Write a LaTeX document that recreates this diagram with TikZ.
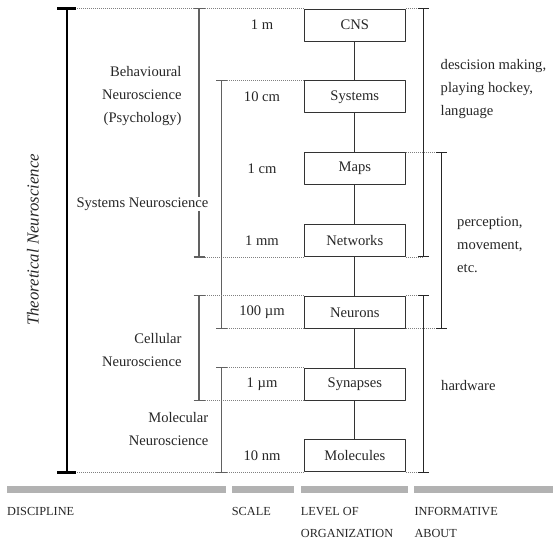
\documentclass[tikz,border=0pt]{standalone}
\usepackage{fontspec}
\setmainfont{Liberation Serif}
\begin{document}
\begin{tikzpicture}[x=1pt,y=-1pt,line join=round,inner sep=0pt,text=black!85,
    font=\fontsize{14.6}{23}\selectfont,
    orgbox/.style={draw=black!80,line width=1pt,minimum width=101pt,minimum height=32pt},
    guide/.style={black!50,line width=.8pt,dash pattern=on .9pt off 1.1pt},
    leftbrace/.style={black!62,line width=1.1pt},
    rightbrace/.style={black!85,line width=1pt},
    bar/.style={fill=black!30},
    heading/.style={anchor=north west,align=left,font=\fontsize{12.3}{21.5}\selectfont}]
\useasboundingbox (0,0) rectangle (553,539);
% x positions of the braces
\path (66.7,0) coordinate (xth) (199,0) coordinate (xl1) (221.7,0) coordinate (xl2)
      (423.3,0) coordinate (xr1) (441.5,0) coordinate (xr2);
% levels of organization and their scale
\foreach \name/\txt/\scl [count=\i from 0] in {cns/CNS/1 m,sys/Systems/10 cm,maps/Maps/1 cm,net/Networks/1 mm,
    neu/Neurons/100 µm,syn/Synapses/1 µm,mol/Molecules/10 nm}{
  \node[orgbox] (\name) at (354.8,25+71.83*\i) {\txt};
  \node (\name-s) at (262,25+71.83*\i) {\scl};
}
\draw[black!80,line width=1pt] (cns)--(sys)--(maps)--(net)--(neu)--(syn)--(mol);
% braces with dotted guides
\draw[guide] (cns.north west) -- (cns.north west -| xth) (mol.south west) -- (mol.south west -| xth);
\draw[black,line width=2.3pt] (cns.north west -| xth) -- (mol.south west -| xth)
  (cns.north west -| xth) ++(-9.5,0) -- ++(19,0) (mol.south west -| xth) ++(-9.5,0) -- ++(19,0);
\foreach \x/\a/\b/\s in {xl1/cns.north west/net.south west/leftbrace,xl2/sys.north west/neu.south west/leftbrace,
    xl1/neu.north west/syn.south west/leftbrace,xl2/syn.north west/mol.south west/leftbrace,
    xr1/cns.north east/net.south east/rightbrace,xr2/maps.north east/neu.south east/rightbrace,
    xr1/neu.north east/mol.south east/rightbrace}{
  \draw[guide] (\a) -- (\a -| \x) (\b) -- (\b -| \x);
  \draw[\s] (\a -| \x) -- (\b -| \x) (\a -| \x) ++(-5.5,0) -- ++(11,0) (\b -| \x) ++(-5.5,0) -- ++(11,0);
}
% disciplines
\node[rotate=90,font=\fontsize{16.8}{18}\selectfont\itshape] (theo) at (33,240) {Theoretical Neuroscience};
\node[anchor=east,align=right] (beh) at (181.7,96) {Behavioural\\Neuroscience\\(Psychology)};
\node[anchor=east,fill=white,inner sep=1pt] (sysn) at (209.5,204) {Systems Neuroscience};
\node[anchor=east,align=right] (cell) at (181.7,349.5) {Cellular\\Neuroscience};
\node[anchor=east,align=right] (molec) at (208.5,428.5) {Molecular\\Neuroscience};
% informative about
\node[anchor=west,align=left] (dec) at (440.5,89) {descision making,\\playing hockey,\\language};
\node[anchor=west,align=left] (perc) at (457,244.5) {perception,\\movement,\\etc.};
\node[anchor=west] (hw) at (441,385) {hardware};
% column headings
\foreach \a/\b in {7/225.7,231.7/294.3,300.7/408.3,414.3/553}
  \fill[bar] (\a,486) rectangle (\b,493.3);
\foreach \x/\t [count=\i] in {7/DISCIPLINE,231.7/SCALE,300.7/{LEVEL OF\\ORGANIZATION},414.3/{INFORMATIVE\\ABOUT}}
  \node[heading] (h\i) at (\x,507.5) {\t};
\end{tikzpicture}
\end{document}
